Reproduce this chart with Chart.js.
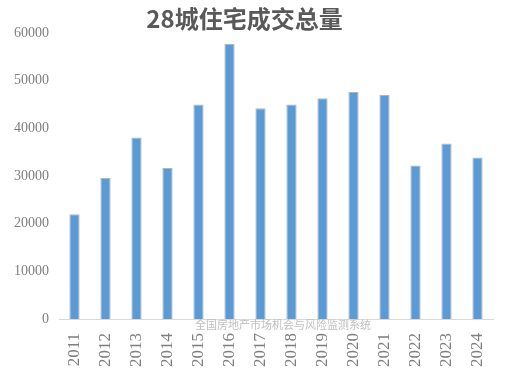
<!DOCTYPE html>
<html>
<head>
<meta charset="utf-8">
<script src="https://cdn.jsdelivr.net/npm/chart.js@4"></script>
<style>
    html, body { margin: 0; padding: 0; background: #fff; }
    #wrap { position: relative; width: 505px; height: 381px; }
    #chartTitle {
        position: absolute; left: 0; top: 3px; width: 489px; text-align: center;
        font: bold 24px "Noto Sans CJK SC", sans-serif; color: #595959; line-height: 30px;
    }
    #watermark {
        position: absolute; left: 183px; top: 317px; width: 200px; text-align: center;
        font: 11px "Noto Sans CJK SC", sans-serif; color: #bfbfbf; line-height: 14px;
    }
</style>
</head>
<body>
<div id="wrap">
    <canvas id="volumeChart" width="505" height="381"></canvas>
    <div id="chartTitle">28城住宅成交总量</div>
    <div id="watermark">全国房地产市场机会与风险监测系统</div>
</div>
<script>
const years = ['2011', '2012', '2013', '2014', '2015', '2016', '2017',
    '2018', '2019', '2020', '2021', '2022', '2023', '2024'];
const volumes = [22000, 29600, 38100, 31700, 45000, 57700, 44200,
    45000, 46300, 47600, 47000, 32200, 36800, 33900];
const yTicks = [0, 10000, 20000, 30000, 40000, 50000, 60000];

let volumeChartInstance = null;

function initVolumeChart() {
    const canvas = document.getElementById('volumeChart');
    if (!canvas || typeof Chart === 'undefined') return;
    if (volumeChartInstance) volumeChartInstance.destroy();
    volumeChartInstance = new Chart(canvas, {
        type: 'bar',
        data: {
            labels: years,
            datasets: [{
                label: '28城住宅成交总量',
                data: volumes,
                backgroundColor: '#5b9bd5',
                borderColor: '#b4b4b4',
                borderWidth: 1,
                barPercentage: 0.33,
                categoryPercentage: 1
            }]
        },
        options: {
            responsive: false,
            animation: false,
            layout: { padding: { top: 33, left: 4, right: 12, bottom: 0 } },
            plugins: { legend: { display: false }, title: { display: false }, tooltip: { enabled: false } },
            scales: {
                x: {
                    afterFit: (axis) => { axis.paddingLeft = 0; axis.paddingRight = 0; },
                    grid: { display: false, drawTicks: false },
                    border: { display: true, color: '#d9d9d9', width: 1 },
                    ticks: {
                        minRotation: 90, maxRotation: 90, padding: 14, autoSkip: false,
                        color: '#7f7f7f',
                        font: { family: 'Liberation Serif', size: 17 }
                    }
                },
                y: {
                    min: yTicks[0],
                    max: yTicks[yTicks.length - 1],
                    afterBuildTicks: (axis) => { axis.ticks = yTicks.map((v) => ({ value: v })); },
                    grid: { display: false, drawTicks: false },
                    border: { display: false },
                    ticks: {
                        padding: 10,
                        color: '#7f7f7f',
                        font: { family: 'Liberation Serif', size: 14 },
                        callback: (value) => String(value)
                    }
                }
            }
        }
    });
}

initVolumeChart();
</script>
</body>
</html>
